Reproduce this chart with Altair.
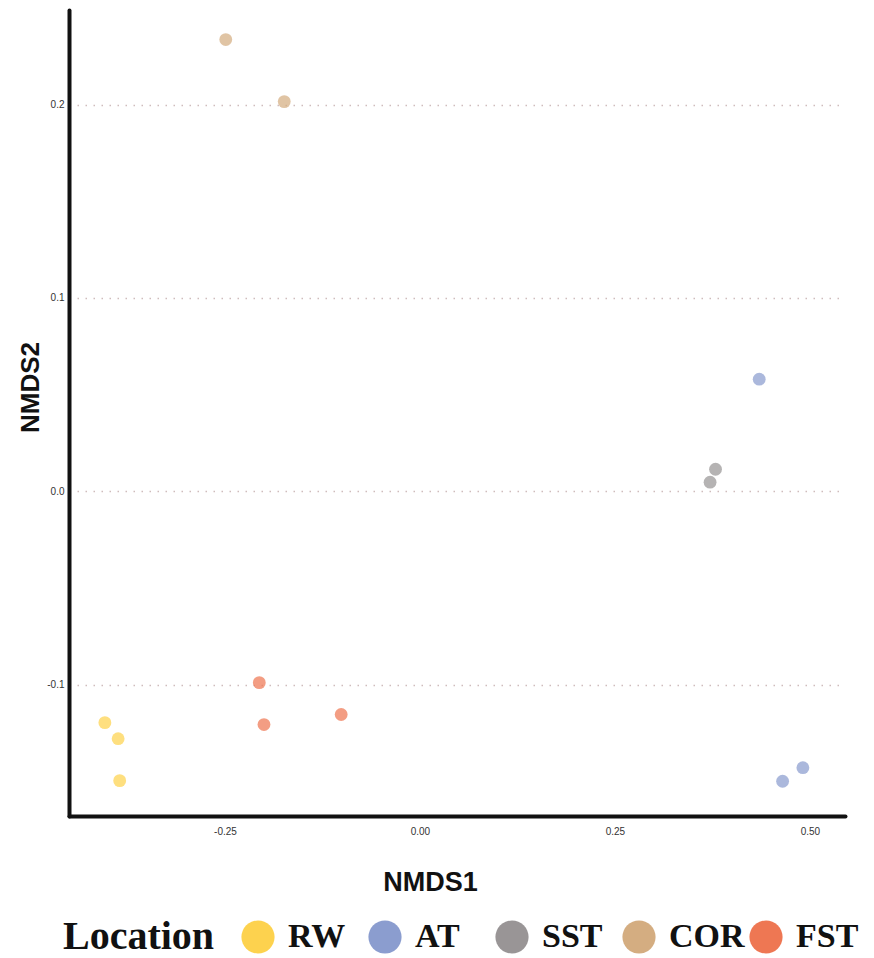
import altair as alt
import pandas as pd

# Data
locations = ["RW", "RW", "RW", "AT", "AT", "AT", "SST", "SST", "SST", "COR", "COR", "FST", "FST", "FST"]
nmds1 = [-0.404, -0.387, -0.385, 0.435, 0.491, 0.465, 0.228, 0.379, 0.372, -0.249, -0.174, -0.206, -0.200, -0.101]
nmds2 = [-0.1197, -0.128, -0.1497, 0.058, -0.143, -0.150, 0.254, 0.0114, 0.0047, 0.2337, 0.2016, -0.099, -0.1207, -0.1155]

order = ["RW", "AT", "SST", "COR", "FST"]
colors = ["#FDD24E", "#8B9DCF", "#999596", "#D4AD81", "#EE7753"]
x_ticks = [-0.25, 0.0, 0.25, 0.50]
y_ticks = [-0.1, 0.0, 0.1, 0.2]

df = pd.DataFrame({"Location": locations, "NMDS1": nmds1, "NMDS2": nmds2})

chart = alt.Chart(df).mark_circle(size=165, opacity=0.72).encode(
    x=alt.X("NMDS1:Q",
            scale=alt.Scale(domain=[-0.45, 0.545], nice=False, zero=False),
            axis=alt.Axis(values=x_ticks, format=".2f", title="NMDS1",
                          labelExpr="replace(datum.label, '\u2212', '-')",
                          grid=False, ticks=False,
                          domainColor="#111111", domainWidth=4, domainCap="round",
                          labelFont="Liberation Sans", labelFontSize=10, labelColor="#333333",
                          labelPadding=10,
                          titleFont="Liberation Sans", titleFontSize=27, titleFontWeight="bold",
                          titleColor="#111111", titleX=361, titleY=74,
                          titleBaseline="alphabetic", titleAnchor="start", titleAlign="center")),
    y=alt.Y("NMDS2:Q",
            scale=alt.Scale(domain=[-0.168, 0.249], nice=False, zero=False),
            axis=alt.Axis(values=y_ticks, format=".1f", title="NMDS2",
                          labelExpr="replace(datum.label, '\u2212', '-')",
                          grid=True, gridColor="#cfbcbc", gridDash=[1.5, 6.5], gridWidth=1.3,
                          ticks=False,
                          domainColor="#111111", domainWidth=4, domainCap="round",
                          labelFont="Liberation Sans", labelFontSize=10, labelColor="#333333",
                          labelPadding=5,
                          titleFont="Liberation Sans", titleFontSize=26, titleFontWeight="bold",
                          titleColor="#111111", titleX=-31, titleY=377, titleAngle=-90,
                          titleBaseline="alphabetic", titleAlign="center")),
    color=alt.Color("Location:N",
                    scale=alt.Scale(domain=order, range=colors),
                    legend=alt.Legend(orient="none", direction="horizontal",
                                      legendX=-6, legendY=910,
                                      title="Location", titleOrient="left",
                                      titleFont="Liberation Serif", titleFontSize=40,
                                      titleFontWeight="bold", titleColor="#111111",
                                      titleBaseline="middle", titlePadding=26,
                                      labelFont="Liberation Serif", labelFontSize=34,
                                      labelFontWeight="bold", labelColor="#111111",
                                      labelOffset=13, labelLimit=300,
                                      symbolType="circle", symbolSize=1100,
                                      symbolOpacity=1, symbolStrokeWidth=0,
                                      gridAlign="all", columnPadding=4, columns=5)),
).properties(
    width=776,
    height=806,
    autosize=alt.AutoSizeParams(type="none"),
    padding={"left": 61, "top": 2, "right": 20, "bottom": 142},
    background="white",
).configure_view(stroke=None)

chart.save("out.html", embed_options={"renderer": "svg", "actions": False})
